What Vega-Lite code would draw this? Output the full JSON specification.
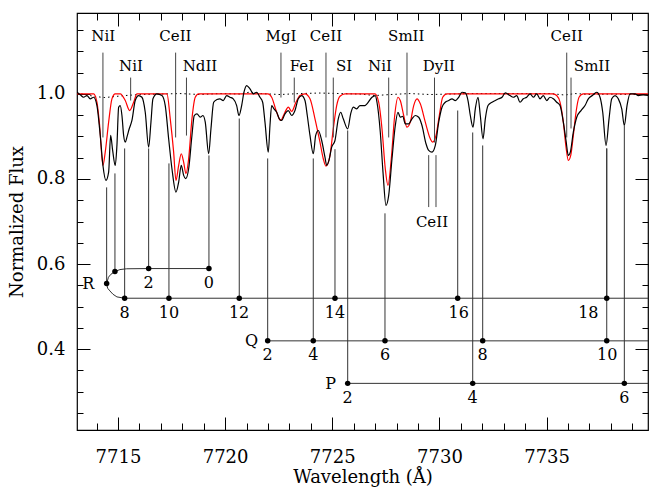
{
  "$schema": "https://vega.github.io/schema/vega-lite/v6.json",
  "width": 571,
  "height": 417,
  "autosize": {"type": "none"},
  "padding": {"left": 77, "top": 13, "right": 1, "bottom": 58},
  "background": "white",
  "config": {
    "view": {"stroke": "black", "strokeWidth": 1.2},
    "axis": {"grid": false, "domain": false, "zindex": 1, "tickColor": "black", "tickWidth": 1, "labelFont": "DejaVu Serif", "titleFont": "DejaVu Serif", "labelColor": "black", "titleColor": "black", "titleFontWeight": "normal"}
  },
  "datasets": {
    "obs": [
      {"x":7713.087,"y":1.0038},{"x":7713.241,"y":0.9977},{"x":7713.399,"y":0.9920},{"x":7713.553,"y":0.9960},{"x":7713.707,"y":0.9883},{"x":7713.866,"y":0.9920},
      {"x":7714.020,"y":0.9725},{"x":7714.174,"y":0.9022},{"x":7714.300,"y":0.8318},{"x":7714.440,"y":0.7966},{"x":7714.566,"y":0.8161},{"x":7714.659,"y":0.9022},
      {"x":7714.753,"y":0.8670},{"x":7714.874,"y":0.8318},{"x":7714.953,"y":0.8787},{"x":7715.033,"y":0.9686},{"x":7715.107,"y":0.9725},{"x":7715.187,"y":0.9491},
      {"x":7715.266,"y":0.9022},{"x":7715.341,"y":0.8864},{"x":7715.420,"y":0.8982},{"x":7715.527,"y":0.9179},{"x":7715.653,"y":0.9374},{"x":7715.807,"y":0.9843},
      {"x":7715.966,"y":0.9960},{"x":7716.120,"y":0.9920},{"x":7716.274,"y":0.9568},{"x":7716.433,"y":0.8747},{"x":7716.540,"y":0.9334},{"x":7716.633,"y":0.9883},
      {"x":7716.820,"y":1.0000},{"x":7717.053,"y":0.9960},{"x":7717.207,"y":0.9725},{"x":7717.366,"y":0.8944},{"x":7717.520,"y":0.8240},{"x":7717.707,"y":0.7691},
      {"x":7717.833,"y":0.7926},{"x":7717.954,"y":0.8318},{"x":7718.066,"y":0.8083},{"x":7718.159,"y":0.8006},{"x":7718.299,"y":0.8240},{"x":7718.453,"y":0.9022},
      {"x":7718.560,"y":0.9491},{"x":7718.686,"y":0.9531},{"x":7718.840,"y":0.9451},{"x":7718.966,"y":0.9491},{"x":7719.074,"y":0.9334},{"x":7719.232,"y":0.8592},
      {"x":7719.340,"y":0.9179},{"x":7719.466,"y":0.9803},{"x":7719.620,"y":0.9866},{"x":7719.760,"y":0.9883},{"x":7719.914,"y":0.9843},{"x":7720.072,"y":0.9960},
      {"x":7720.226,"y":0.9920},{"x":7720.380,"y":0.9883},{"x":7720.539,"y":0.9725},{"x":7720.646,"y":0.9491},{"x":7720.772,"y":0.9725},{"x":7720.880,"y":1.0038},
      {"x":7721.006,"y":1.0195},{"x":7721.160,"y":1.0117},{"x":7721.314,"y":1.0000},{"x":7721.472,"y":1.0038},{"x":7721.626,"y":0.9920},{"x":7721.752,"y":0.9803},
      {"x":7721.860,"y":0.9334},{"x":7722.014,"y":0.8630},{"x":7722.093,"y":0.9256},{"x":7722.172,"y":0.9725},{"x":7722.280,"y":0.9648},{"x":7722.406,"y":0.9568},
      {"x":7722.527,"y":0.9413},{"x":7722.639,"y":0.9374},{"x":7722.793,"y":0.9531},{"x":7722.947,"y":0.9608},{"x":7723.106,"y":0.9491},{"x":7723.260,"y":0.9608},
      {"x":7723.414,"y":0.9883},{"x":7723.572,"y":0.9960},{"x":7723.726,"y":0.9843},{"x":7723.834,"y":0.9491},{"x":7723.960,"y":0.9022},{"x":7724.114,"y":0.8592},
      {"x":7724.226,"y":0.9022},{"x":7724.347,"y":0.9139},{"x":7724.506,"y":0.8904},{"x":7724.659,"y":0.8512},{"x":7724.739,"y":0.8318},{"x":7724.846,"y":0.8435},
      {"x":7724.972,"y":0.8747},{"x":7725.126,"y":0.8904},{"x":7725.280,"y":0.9413},{"x":7725.392,"y":0.9568},{"x":7725.513,"y":0.9413},{"x":7725.719,"y":0.9179},
      {"x":7725.859,"y":0.9531},{"x":7725.980,"y":0.9686},{"x":7726.139,"y":0.9648},{"x":7726.293,"y":0.9725},{"x":7726.526,"y":0.9725},{"x":7726.619,"y":0.9765},
      {"x":7726.853,"y":0.9920},{"x":7727.007,"y":0.9960},{"x":7727.086,"y":0.9803},{"x":7727.240,"y":0.9099},{"x":7727.366,"y":0.8161},{"x":7727.506,"y":0.7379},
      {"x":7727.632,"y":0.7614},{"x":7727.786,"y":0.8475},{"x":7727.940,"y":0.9256},{"x":7728.066,"y":0.9568},{"x":7728.173,"y":0.9451},{"x":7728.285,"y":0.9474},
      {"x":7728.407,"y":0.9296},{"x":7728.565,"y":0.9296},{"x":7728.719,"y":0.9413},{"x":7728.873,"y":0.9491},{"x":7729.032,"y":0.9451},{"x":7729.186,"y":0.9256},
      {"x":7729.373,"y":0.8827},{"x":7729.498,"y":0.8670},{"x":7729.652,"y":0.8630},{"x":7729.807,"y":0.8787},{"x":7729.965,"y":0.9334},{"x":7730.119,"y":0.9686},
      {"x":7730.273,"y":0.9803},{"x":7730.432,"y":0.9843},{"x":7730.586,"y":0.9883},{"x":7730.740,"y":0.9843},{"x":7730.898,"y":0.9920},{"x":7731.052,"y":1.0038},
      {"x":7731.207,"y":1.0023},{"x":7731.332,"y":0.9843},{"x":7731.440,"y":0.9491},{"x":7731.566,"y":0.9216},{"x":7731.673,"y":0.9648},{"x":7731.799,"y":0.9920},
      {"x":7731.906,"y":0.9491},{"x":7732.032,"y":0.8944},{"x":7732.140,"y":0.9413},{"x":7732.266,"y":0.9725},{"x":7732.452,"y":0.9803},{"x":7732.606,"y":0.9843},
      {"x":7732.765,"y":0.9883},{"x":7732.919,"y":0.9920},{"x":7733.073,"y":1.0023},{"x":7733.292,"y":0.9960},{"x":7733.446,"y":0.9920},{"x":7733.605,"y":0.9960},
      {"x":7733.759,"y":0.9803},{"x":7733.913,"y":0.9883},{"x":7734.071,"y":0.9920},{"x":7734.226,"y":1.0000},{"x":7734.380,"y":0.9920},{"x":7734.538,"y":1.0000},
      {"x":7734.692,"y":0.9883},{"x":7734.846,"y":0.9960},{"x":7735.005,"y":0.9843},{"x":7735.159,"y":0.9920},{"x":7735.313,"y":0.9883},{"x":7735.471,"y":0.9803},
      {"x":7735.625,"y":0.9725},{"x":7735.780,"y":0.9334},{"x":7735.905,"y":0.8904},{"x":7736.013,"y":0.8552},{"x":7736.106,"y":0.8630},{"x":7736.246,"y":0.9099},
      {"x":7736.405,"y":0.9451},{"x":7736.605,"y":0.9608},{"x":7736.792,"y":0.9725},{"x":7736.946,"y":0.9883},{"x":7737.133,"y":0.9960},{"x":7737.338,"y":1.0038},
      {"x":7737.492,"y":0.9920},{"x":7737.618,"y":0.9568},{"x":7737.772,"y":0.8787},{"x":7737.912,"y":0.9413},{"x":7738.038,"y":0.9883},{"x":7738.192,"y":0.9960},
      {"x":7738.346,"y":0.9883},{"x":7738.505,"y":0.9648},{"x":7738.626,"y":0.9256},{"x":7738.752,"y":0.9725},{"x":7738.892,"y":1.0000},{"x":7739.125,"y":1.0000},
      {"x":7739.279,"y":0.9960},{"x":7739.513,"y":0.9977},{"x":7739.746,"y":0.9960}
    ],
    "model": [
      {"x":7713.087,"y":1.0},{"x":7713.866,"y":1.0},{"x":7714.020,"y":0.9803},{"x":7714.146,"y":0.9256},{"x":7714.300,"y":0.8318},{"x":7714.407,"y":0.8630},
      {"x":7714.566,"y":0.9334},{"x":7714.720,"y":0.9883},{"x":7714.874,"y":1.0},{"x":7715.107,"y":1.0},{"x":7715.341,"y":0.9843},{"x":7715.546,"y":0.9608},
      {"x":7715.733,"y":0.9803},{"x":7715.887,"y":1.0},{"x":7717.287,"y":1.0},{"x":7717.441,"y":0.9413},{"x":7717.599,"y":0.8630},{"x":7717.707,"y":0.7966},
      {"x":7717.833,"y":0.8318},{"x":7717.954,"y":0.8592},{"x":7718.066,"y":0.8395},{"x":7718.173,"y":0.8123},{"x":7718.299,"y":0.8475},{"x":7718.453,"y":0.9413},
      {"x":7718.607,"y":0.9920},{"x":7718.766,"y":1.0},{"x":7722.000,"y":1.0},{"x":7722.172,"y":0.9920},{"x":7722.406,"y":0.9568},{"x":7722.592,"y":0.9374},
      {"x":7722.793,"y":0.9568},{"x":7722.947,"y":0.9686},{"x":7723.106,"y":0.9585},{"x":7723.306,"y":0.9803},{"x":7723.493,"y":0.9960},{"x":7723.726,"y":1.0},
      {"x":7723.960,"y":0.9883},{"x":7724.193,"y":0.9413},{"x":7724.426,"y":0.8864},{"x":7724.580,"y":0.8475},{"x":7724.706,"y":0.8301},{"x":7724.893,"y":0.8552},
      {"x":7725.047,"y":0.9179},{"x":7725.205,"y":0.9725},{"x":7725.359,"y":0.9944},{"x":7725.593,"y":1.0},{"x":7726.993,"y":1.0},{"x":7727.165,"y":0.9803},
      {"x":7727.319,"y":0.9179},{"x":7727.473,"y":0.8240},{"x":7727.599,"y":0.7848},{"x":7727.753,"y":0.8475},{"x":7727.912,"y":0.9491},{"x":7728.066,"y":0.9920},
      {"x":7728.173,"y":0.9843},{"x":7728.332,"y":0.9491},{"x":7728.486,"y":0.9216},{"x":7728.640,"y":0.9334},{"x":7728.799,"y":0.9725},{"x":7728.953,"y":0.9883},
      {"x":7729.107,"y":0.9765},{"x":7729.340,"y":0.9334},{"x":7729.573,"y":0.8944},{"x":7729.685,"y":0.8864},{"x":7729.839,"y":0.9022},{"x":7729.993,"y":0.9491},
      {"x":7730.152,"y":0.9920},{"x":7730.352,"y":1.0},{"x":7735.299,"y":1.0},{"x":7735.471,"y":0.9960},{"x":7735.625,"y":0.9803},{"x":7735.780,"y":0.9334},
      {"x":7735.905,"y":0.8747},{"x":7736.013,"y":0.8435},{"x":7736.125,"y":0.8552},{"x":7736.246,"y":0.9022},{"x":7736.372,"y":0.9568},{"x":7736.512,"y":0.9920},
      {"x":7736.713,"y":1.0},{"x":7739.730,"y":1.0}
    ],
    "tell": [
      {"x":7713.087,"y":1.0019},{"x":7713.460,"y":0.9984},{"x":7713.927,"y":0.9937},{"x":7714.393,"y":0.9913},{"x":7714.860,"y":0.9937},{"x":7715.327,"y":0.9960},
      {"x":7716.027,"y":0.9984},{"x":7716.960,"y":0.9995},{"x":7717.893,"y":1.0007},{"x":7718.826,"y":0.9984},{"x":7719.760,"y":1.0007},{"x":7720.693,"y":0.9995},
      {"x":7721.160,"y":1.0042},{"x":7721.626,"y":1.0007},{"x":7722.560,"y":0.9984},{"x":7723.493,"y":1.0007},{"x":7724.426,"y":1.0019},{"x":7725.359,"y":1.0007},
      {"x":7726.293,"y":0.9995},{"x":7726.993,"y":0.9960},{"x":7727.693,"y":0.9984},{"x":7728.626,"y":1.0007},{"x":7729.559,"y":0.9984},{"x":7730.492,"y":0.9995},
      {"x":7731.426,"y":1.0007},{"x":7732.359,"y":1.0007},{"x":7733.292,"y":1.0007},{"x":7734.226,"y":1.0007},{"x":7735.159,"y":1.0007},{"x":7735.859,"y":0.9972},
      {"x":7736.325,"y":1.0007},{"x":7737.025,"y":0.9984},{"x":7737.959,"y":0.9995},{"x":7738.892,"y":0.9984},{"x":7739.730,"y":0.9984}
    ],
    "ids": [
      {"x":7714.300,"y":1.0969,"y2":0.8975},{"x":7715.593,"y":1.0382,"y2":0.9843},{"x":7717.692,"y":1.0969,"y2":0.8975},{"x":7718.197,"y":1.0382,"y2":0.9020},
      {"x":7722.606,"y":1.0969,"y2":0.9913},{"x":7723.227,"y":1.0382,"y2":0.9796},{"x":7724.706,"y":1.0969,"y2":0.8975},{"x":7725.047,"y":1.0382,"y2":0.8975},
      {"x":7727.632,"y":1.0382,"y2":0.8975},{"x":7728.486,"y":1.0969,"y2":0.9491},{"x":7729.769,"y":1.0382,"y2":0.8857},{"x":7729.498,"y":0.8560,"y2":0.7339},
      {"x":7729.839,"y":0.8560,"y2":0.7339},{"x":7735.938,"y":1.0969,"y2":0.8975},{"x":7736.139,"y":1.0382,"y2":0.9186}
    ],
    "idlabels": [
      {"x":7714.315,"y":1.1368,"t":"NiI"},{"x":7715.607,"y":1.0652,"t":"NiI"},{"x":7717.683,"y":1.1368,"t":"CeII"},{"x":7718.826,"y":1.0652,"t":"NdII"},
      {"x":7722.606,"y":1.1368,"t":"MgI"},{"x":7723.586,"y":1.0652,"t":"FeI"},{"x":7724.706,"y":1.1368,"t":"CeII"},{"x":7725.546,"y":1.0652,"t":"SI"},
      {"x":7727.226,"y":1.0652,"t":"NiI"},{"x":7728.453,"y":1.1368,"t":"SmII"},{"x":7729.970,"y":1.0652,"t":"DyII"},{"x":7729.652,"y":0.6980,"t":"CeII"},
      {"x":7735.938,"y":1.1368,"t":"CeII"},{"x":7737.119,"y":1.0652,"t":"SmII"}
    ],
    "branch": [
      {"x":7719.246,"top":0.8552,"lev":0.5894},{"x":7716.433,"top":0.8717,"lev":0.5894},{"x":7714.860,"top":0.8130,"lev":0.5824},{"x":7714.473,"top":0.7802,"lev":0.5542},
      {"x":7715.313,"top":0.8717,"lev":0.5197},{"x":7717.380,"top":0.8365,"lev":0.5197},{"x":7720.660,"top":0.9420,"lev":0.5197},{"x":7725.126,"top":0.8700,"lev":0.5197},
      {"x":7730.852,"top":0.9608,"lev":0.5197},{"x":7737.805,"top":0.8717,"lev":0.5197},{"x":7721.986,"top":0.8482,"lev":0.4195},{"x":7724.113,"top":0.8482,"lev":0.4195},
      {"x":7727.459,"top":0.7192,"lev":0.4195},{"x":7732.018,"top":0.8787,"lev":0.4195},{"x":7737.805,"top":0.8717,"lev":0.4195},{"x":7725.719,"top":0.9139,"lev":0.3196},
      {"x":7731.552,"top":0.9092,"lev":0.3196},{"x":7738.626,"top":0.9256,"lev":0.3196}
    ],
    "rpath": [
      {"i":0,"x":7719.246,"y":0.5894},{"i":1,"x":7716.433,"y":0.5894},{"i":2,"x":7715.406,"y":0.5889},{"i":3,"x":7715.093,"y":0.5870},{"i":4,"x":7714.860,"y":0.5824},
      {"i":5,"x":7714.673,"y":0.5760},{"i":6,"x":7714.557,"y":0.5690},{"i":7,"x":7714.473,"y":0.5542},{"i":8,"x":7714.519,"y":0.5432},{"i":9,"x":7714.627,"y":0.5368},
      {"i":10,"x":7714.767,"y":0.5291},{"i":11,"x":7714.953,"y":0.5228},{"i":12,"x":7715.313,"y":0.5197},{"i":13,"x":7739.730,"y":0.5197}
    ],
    "hl": [
      {"x":7721.986,"x2":7739.73,"y":0.4195},{"x":7725.719,"x2":7739.73,"y":0.3196}
    ],
    "blabels": [
      {"x":7713.614,"y":0.5526,"t":"R"},{"x":7716.433,"y":0.5549,"t":"2"},{"x":7719.246,"y":0.5549,"t":"0"},{"x":7715.313,"y":0.4857,"t":"8"},
      {"x":7717.380,"y":0.4857,"t":"10"},{"x":7720.653,"y":0.4857,"t":"12"},{"x":7725.126,"y":0.4857,"t":"14"},{"x":7730.900,"y":0.4857,"t":"16"},
      {"x":7736.946,"y":0.4857,"t":"18"},{"x":7721.239,"y":0.4195,"t":"Q"},{"x":7721.986,"y":0.3860,"t":"2"},{"x":7724.113,"y":0.3860,"t":"4"},
      {"x":7727.459,"y":0.3860,"t":"6"},{"x":7732.018,"y":0.3860,"t":"8"},{"x":7737.830,"y":0.3860,"t":"10"},{"x":7724.925,"y":0.3179,"t":"P"},
      {"x":7725.719,"y":0.2844,"t":"2"},{"x":7731.552,"y":0.2844,"t":"4"},{"x":7738.626,"y":0.2844,"t":"6"}
    ]
  },
  "resolve": {"axis": {"x": "independent", "y": "independent"}},
  "layer": [
    {
      "data": {"name": "tell"},
      "mark": {"type": "line", "color": "black", "strokeWidth": 1, "strokeDash": [1.5, 3], "clip": true},
      "encoding": {
        "x": {"field": "x", "type": "quantitative", "scale": {"domain": [7713.09, 7739.73], "nice": false, "zero": false},
              "axis": {"orient": "bottom", "values": [7715, 7720, 7725, 7730, 7735], "format": "d", "tickSize": -13, "labelPadding": 31, "labelFontSize": 18, "title": "Wavelength (Å)", "titleFontSize": 18, "titlePadding": 2}},
        "y": {"field": "y", "type": "quantitative", "scale": {"domain": [0.21, 1.19], "nice": false, "zero": false},
              "axis": {"orient": "left", "values": [0.4, 0.6, 0.8, 1.0], "format": ".1f", "tickSize": -13, "labelPadding": 25, "labelFontSize": 18, "title": "Normalized Flux", "titleFontSize": 18, "titlePadding": 10}}
      }
    },
    {
      "data": {"name": "model"},
      "mark": {"type": "line", "color": "#ff0000", "strokeWidth": 1.2, "interpolate": "monotone", "clip": true},
      "encoding": {
        "x": {"field": "x", "type": "quantitative", "scale": {"domain": [7713.09, 7739.73], "nice": false, "zero": false},
              "axis": {"orient": "bottom", "values": [7714,7715,7716,7717,7718,7719,7720,7721,7722,7723,7724,7725,7726,7727,7728,7729,7730,7731,7732,7733,7734,7735,7736,7737,7738,7739], "tickSize": -7, "labels": false, "title": null}},
        "y": {"field": "y", "type": "quantitative", "scale": {"domain": [0.21, 1.19], "nice": false, "zero": false},
              "axis": {"orient": "left", "values": [0.25,0.3,0.35,0.4,0.45,0.5,0.55,0.6,0.65,0.7,0.75,0.8,0.85,0.9,0.95,1.0,1.05,1.1,1.15], "tickSize": -6, "labels": false, "title": null}}
      }
    },
    {
      "data": {"name": "obs"},
      "mark": {"type": "line", "color": "black", "strokeWidth": 1.2, "interpolate": "monotone", "clip": true},
      "encoding": {
        "x": {"field": "x", "type": "quantitative", "scale": {"domain": [7713.09, 7739.73], "nice": false, "zero": false},
              "axis": {"orient": "top", "values": [7715, 7720, 7725, 7730, 7735], "tickSize": -13, "labels": false, "title": null}},
        "y": {"field": "y", "type": "quantitative", "scale": {"domain": [0.21, 1.19], "nice": false, "zero": false},
              "axis": {"orient": "right", "values": [0.4, 0.6, 0.8, 1.0], "tickSize": -13, "labels": false, "title": null}}
      }
    },
    {
      "data": {"name": "ids"},
      "mark": {"type": "rule", "color": "#444444", "strokeWidth": 1},
      "encoding": {
        "x": {"field": "x", "type": "quantitative", "scale": {"domain": [7713.09, 7739.73], "nice": false, "zero": false},
              "axis": {"orient": "top", "values": [7714,7715,7716,7717,7718,7719,7720,7721,7722,7723,7724,7725,7726,7727,7728,7729,7730,7731,7732,7733,7734,7735,7736,7737,7738,7739], "tickSize": -7, "labels": false, "title": null}},
        "y": {"field": "y", "type": "quantitative", "scale": {"domain": [0.21, 1.19], "nice": false, "zero": false},
              "axis": {"orient": "right", "values": [0.25,0.3,0.35,0.4,0.45,0.5,0.55,0.6,0.65,0.7,0.75,0.8,0.85,0.9,0.95,1.0,1.05,1.1,1.15], "tickSize": -6, "labels": false, "title": null}},
        "y2": {"field": "y2"}
      }
    },
    {
      "data": {"name": "idlabels"},
      "mark": {"type": "text", "font": "DejaVu Serif", "fontSize": 15, "color": "black", "align": "center", "baseline": "middle"},
      "encoding": {
        "x": {"field": "x", "type": "quantitative", "scale": {"domain": [7713.09, 7739.73], "nice": false, "zero": false}, "axis": null},
        "y": {"field": "y", "type": "quantitative", "scale": {"domain": [0.21, 1.19], "nice": false, "zero": false}, "axis": null},
        "text": {"field": "t"}
      }
    },
    {
      "data": {"name": "branch"},
      "mark": {"type": "rule", "color": "#333333", "strokeWidth": 1},
      "encoding": {
        "x": {"field": "x", "type": "quantitative", "scale": {"domain": [7713.09, 7739.73], "nice": false, "zero": false}, "axis": null},
        "y": {"field": "top", "type": "quantitative", "scale": {"domain": [0.21, 1.19], "nice": false, "zero": false}, "axis": null},
        "y2": {"field": "lev"}
      }
    },
    {
      "data": {"name": "hl"},
      "mark": {"type": "rule", "color": "#333333", "strokeWidth": 1, "clip": true},
      "encoding": {
        "x": {"field": "x", "type": "quantitative", "scale": {"domain": [7713.09, 7739.73], "nice": false, "zero": false}, "axis": null},
        "x2": {"field": "x2"},
        "y": {"field": "y", "type": "quantitative", "scale": {"domain": [0.21, 1.19], "nice": false, "zero": false}, "axis": null}
      }
    },
    {
      "data": {"name": "rpath"},
      "mark": {"type": "line", "color": "#333333", "strokeWidth": 1, "clip": true},
      "encoding": {
        "x": {"field": "x", "type": "quantitative", "scale": {"domain": [7713.09, 7739.73], "nice": false, "zero": false}, "axis": null},
        "y": {"field": "y", "type": "quantitative", "scale": {"domain": [0.21, 1.19], "nice": false, "zero": false}, "axis": null},
        "order": {"field": "i", "type": "quantitative"}
      }
    },
    {
      "data": {"name": "branch"},
      "mark": {"type": "point", "filled": true, "color": "black", "size": 30, "opacity": 1},
      "encoding": {
        "x": {"field": "x", "type": "quantitative", "scale": {"domain": [7713.09, 7739.73], "nice": false, "zero": false}, "axis": null},
        "y": {"field": "lev", "type": "quantitative", "scale": {"domain": [0.21, 1.19], "nice": false, "zero": false}, "axis": null}
      }
    },
    {
      "data": {"name": "blabels"},
      "mark": {"type": "text", "font": "DejaVu Serif", "fontSize": 16, "color": "black", "align": "center", "baseline": "middle"},
      "encoding": {
        "x": {"field": "x", "type": "quantitative", "scale": {"domain": [7713.09, 7739.73], "nice": false, "zero": false}, "axis": null},
        "y": {"field": "y", "type": "quantitative", "scale": {"domain": [0.21, 1.19], "nice": false, "zero": false}, "axis": null},
        "text": {"field": "t"}
      }
    }
  ]
}
